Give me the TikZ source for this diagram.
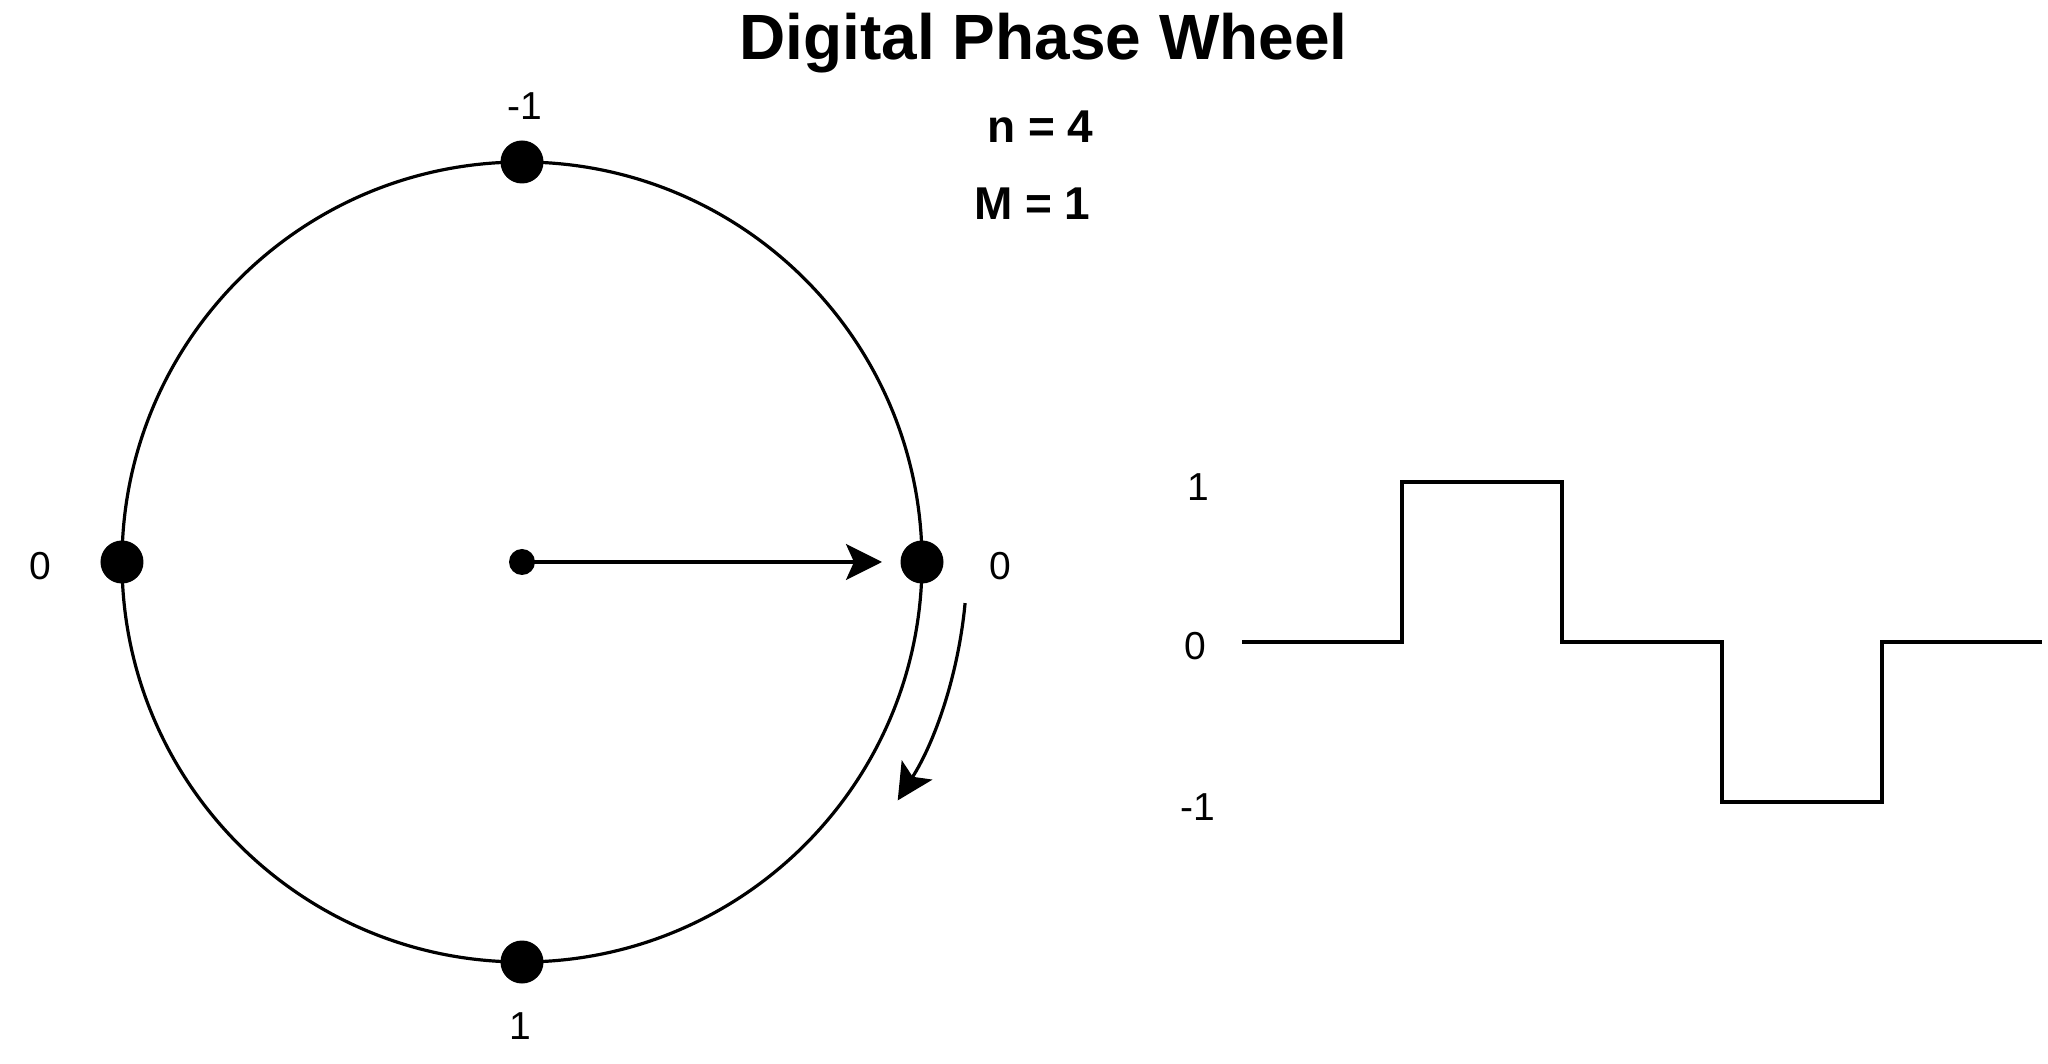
\documentclass[tikz,border=0pt]{standalone}
\usepackage{fontspec}
\setmainfont{Liberation Sans}
\usepackage{tikz}
\usetikzlibrary{arrows.meta}

\tikzset{
  dot/.style={circle, fill=black, inner sep=0pt, minimum size=21.5pt},
  hub/.style={circle, fill=black, inner sep=0pt, minimum size=13pt},
  lbl/.style={font=\fontsize{19.5pt}{23pt}\selectfont, inner sep=1pt},
  pointer/.style={line width=1.6pt, -{Stealth[length=18pt, width=18pt, inset=4pt]}},
}

\begin{document}
\begin{tikzpicture}[x=20pt, y=20pt]
\useasboundingbox (-13.05,-12.55) rectangle (38.15,14.05);

% wheel
\draw[line width=1.6pt] (0,0) circle[radius=10];
\node[dot] (ptop) at (0,10) {};
\node[dot] (pleft) at (-10,0) {};
\node[dot] (pright) at (10,0) {};
\node[dot] (pbot) at (0,-10) {};
\node[hub] (hub) at (0,0) {};

\node[lbl] (ltop) at (0.08,11.4) {-1};
\node[lbl] (lleft) at (-12.05,-0.11) {0};
\node[lbl] (lright) at (11.96,-0.11) {0};
\node[lbl] (lbot) at (-0.05,-11.6) {1};

% phase pointer and direction of rotation
\coordinate (tip) at (9,0);
\draw[pointer] (hub.center) -- (tip);
\coordinate (spin) at (-5.3:11.125);
\draw[pointer] (spin) arc[start angle=-5.3, end angle=-32.4, radius=11.125];

% title
\node[font=\fontsize{32pt}{38pt}\selectfont\bfseries, anchor=base] (title) at (13.04,12.55) {Digital Phase Wheel};
\node[font=\fontsize{23pt}{28pt}\selectfont\bfseries] (nval) at (12.96,10.88) {n = 4};
\node[font=\fontsize{23pt}{28pt}\selectfont\bfseries] (mval) at (12.76,8.95) {M = 1};

% output levels
\node[lbl] (wone) at (16.9,1.88) {1};
\node[lbl] (wzero) at (16.83,-2.11) {0};
\node[lbl] (wminus) at (16.9,-6.13) {-1};
\draw[line width=1.6pt] (18,-2) -| (22,2) -| (26,-2) -| (30,-6) -| (34,-2) -- (38,-2);
\end{tikzpicture}
\end{document}
